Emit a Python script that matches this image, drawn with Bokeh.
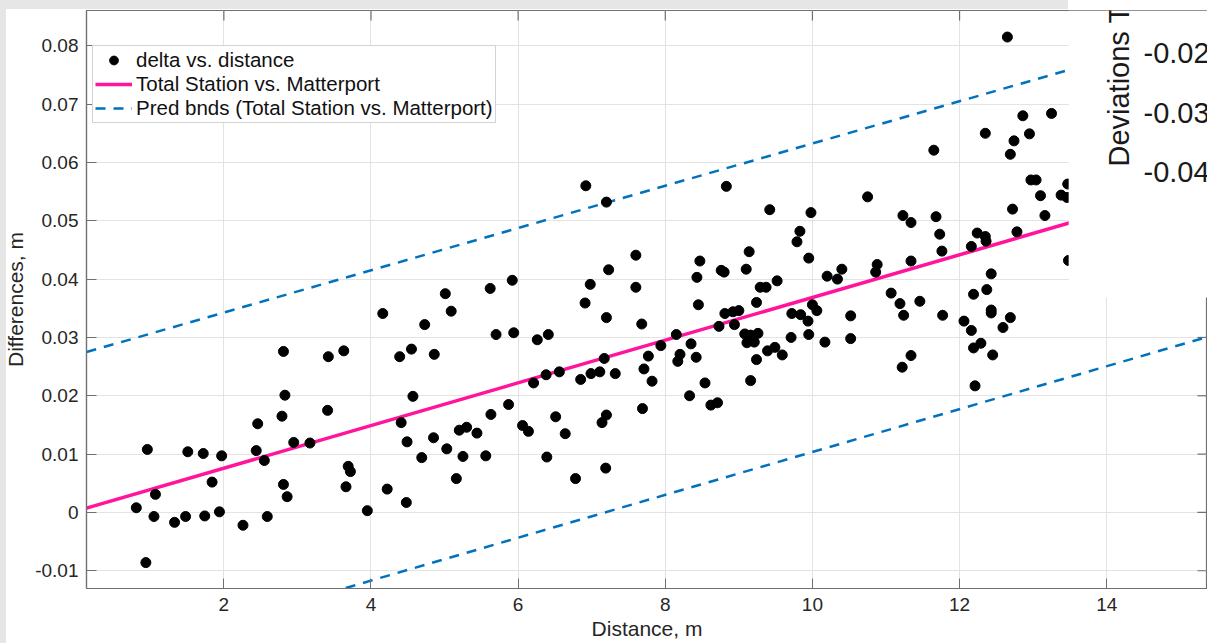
from bokeh.plotting import figure
from bokeh.models import (Range1d, Legend, LegendItem, BoxAnnotation,
                          Label, FixedTicker, NumeralTickFormatter)
from bokeh.embed import file_html
from bokeh.resources import INLINE

# ---------------- data ----------------
distance = [
    0.81, 0.94, 0.96, 1.05, 1.07, 1.33, 1.48, 1.51, 1.72, 1.74, 1.84, 1.94, 1.97,
    2.26, 2.44, 2.46, 2.55, 2.59, 2.79, 2.81, 2.81, 2.83, 2.86, 2.95, 3.17, 3.41,
    3.42, 3.63, 3.66, 3.69, 3.72, 3.95, 4.16, 4.22, 4.39, 4.41, 4.48, 4.49, 4.55,
    4.57, 4.69, 4.73, 4.85, 4.86, 5.01, 5.03, 5.09, 5.16, 5.20, 5.25, 5.30, 5.44,
    5.56, 5.62, 5.63, 5.70, 5.87, 5.92, 5.94, 6.06, 6.14, 6.21, 6.26, 6.38, 6.39,
    6.41, 6.51, 6.56, 6.64, 6.78, 6.85, 6.91, 6.92, 6.98, 6.99, 7.11, 7.14, 7.17,
    7.19, 7.20, 7.20, 7.20, 7.23, 7.32, 7.60, 7.60, 7.68, 7.69, 7.71, 7.77, 7.82,
    7.94, 8.15, 8.17, 8.20, 8.33, 8.35, 8.42, 8.43, 8.45, 8.47, 8.54, 8.62, 8.71,
    8.73, 8.76, 8.80, 8.81, 8.83, 8.92, 8.94, 9.00, 9.08, 9.10, 9.11, 9.14, 9.16,
    9.16, 9.21, 9.24, 9.24, 9.26, 9.29, 9.37, 9.39, 9.42, 9.49, 9.52, 9.59, 9.71,
    9.72, 9.79, 9.83, 9.84, 9.94, 9.95, 9.95, 9.98, 10.00, 10.06, 10.17, 10.20,
    10.34, 10.40, 10.52, 10.52, 10.75, 10.86, 10.88, 11.07, 11.19, 11.22, 11.23,
    11.24, 11.34, 11.34, 11.34, 11.46, 11.65, 11.68, 11.73, 11.76, 11.77, 12.06,
    12.16, 12.16, 12.19, 12.19, 12.21, 12.24, 12.29, 12.35, 12.35, 12.36, 12.37,
    12.43, 12.43, 12.43, 12.45, 12.59, 12.65, 12.69, 12.69, 12.72, 12.74, 12.78,
    12.86, 12.95, 12.97, 13.04, 13.10, 13.16, 13.25, 13.38, 13.46, 13.47, 13.48,
]
delta = [
    0.0008, -0.0086, 0.0108, -0.0007, 0.0031, -0.0017, -0.0007, 0.0104, 0.0101,
    -0.0006, 0.0052, 0.0001, 0.0097, -0.0022, 0.0106, 0.0152, 0.0089, -0.0007,
    0.0165, 0.0276, 0.0048, 0.0201, 0.0027, 0.0120, 0.0119, 0.0175, 0.0267,
    0.0277, 0.0044, 0.0079, 0.0070, 0.0003, 0.0341, 0.0040, 0.0267, 0.0154,
    0.0017, 0.0121, 0.0280, 0.0199, 0.0094, 0.0322, 0.0128, 0.0271, 0.0375,
    0.0109, 0.0345, 0.0058, 0.0141, 0.0096, 0.0146, 0.0136, 0.0097, 0.0384,
    0.0168, 0.0305, 0.0185, 0.0398, 0.0308, 0.0149, 0.0139, 0.0222, 0.0296,
    0.0236, 0.0095, 0.0305, 0.0164, 0.0241, 0.0135, 0.0058, 0.0228, 0.0359,
    0.0560, 0.0391, 0.0238, 0.0241, 0.0154, 0.0264, 0.0076, 0.0167, 0.0334,
    0.0532, 0.0416, 0.0238, 0.0441, 0.0386, 0.0323, 0.0178, 0.0246, 0.0268,
    0.0225, 0.0286, 0.0305, 0.0259, 0.0271, 0.0200, 0.0289, 0.0266, 0.0403,
    0.0356, 0.0431, 0.0222, 0.0184, 0.0188, 0.0319, 0.0415, 0.0412, 0.0341,
    0.0559, 0.0344, 0.0322, 0.0346, 0.0306, 0.0417, 0.0291, 0.0447, 0.0304,
    0.0226, 0.0292, 0.0360, 0.0262, 0.0307, 0.0386, 0.0386, 0.0277, 0.0519,
    0.0283, 0.0397, 0.0270, 0.0300, 0.0341, 0.0464, 0.0482, 0.0339, 0.0328,
    0.0436, 0.0305, 0.0514, 0.0356, 0.0346, 0.0292, 0.0405, 0.0400, 0.0417,
    0.0337, 0.0298, 0.0541, 0.0412, 0.0425, 0.0376, 0.0358, 0.0249, 0.0509,
    0.0338, 0.0497, 0.0431, 0.0269, 0.0362, 0.0621, 0.0507, 0.0477, 0.0448,
    0.0338, 0.0328, 0.0312, 0.0456, 0.0282, 0.0374, 0.0217, 0.0479, 0.0290,
    0.0473, 0.0650, 0.0465, 0.0382, 0.0409, 0.0347, 0.0342, 0.0270, 0.0317,
    0.0815, 0.0614, 0.0334, 0.0520, 0.0637, 0.0481, 0.0680, 0.0649, 0.0570,
    0.0570, 0.0543, 0.0509, 0.0684, 0.0544, 0.0540, 0.0563, 0.0432,
]

# fitted line and prediction bounds (values read at the axis limits)
line_x = [0.133, 15.37]
fit_y = [0.00075, 0.0565]
upper_y = [0.0275, 0.0827]
lower_y = [-0.0259, 0.0301]

x_ticks = [2, 4, 6, 8, 10, 12, 14]
y_ticks = [-0.01, 0.0, 0.01, 0.02, 0.03, 0.04, 0.05, 0.06, 0.07, 0.08]

series_labels = ["delta vs. distance", "Total Station vs. Matterport",
                 "Pred bnds (Total Station vs. Matterport)"]
x_title = "Distance, m"
y_title = "Differences, m"

# text of the second window that overlaps the top-right corner
overlay_title = "Deviations TC"
overlay_ticks = ["-0.02", "-0.03", "-0.04"]

# ---------------- styling ----------------
FONT = "Liberation Sans"
TXT = "#262626"
AX = "#707070"
GRID = "#e3e3e3"
GRAY = "#e6e6e6"
PINK = "#ff149b"
BLUE = "#0072bd"

W, H = 1207, 643
BL, BR, BT, BB = 86, 0, 10, 55
X0, X1 = 0.133, 15.37
Y0, Y1 = -0.01304, 0.08605
TICK = 10  # inward tick length, px

p = figure(width=W, height=H,
           x_range=Range1d(X0, X1), y_range=Range1d(Y0, Y1),
           output_backend="svg", toolbar_location=None,
           min_border_left=BL, min_border_right=BR, min_border_top=BT,
           min_border_bottom=BB,
           background_fill_color="white", border_fill_color=None,
           outline_line_color=AX, outline_line_width=1.2)
p.margin = 0
# window frame: thin gray strips at the left and top (top strip stops where
# the second window overlaps)
p.styles = {
    "background": ("linear-gradient(to right, %s 6px, rgba(255,255,255,0) 6px), "
                   "linear-gradient(to bottom, %s 9px, #ffffff 9px) 0 0 / 1068px 100%% no-repeat, "
                   "#ffffff") % (GRAY, GRAY)
}

xt = FixedTicker(ticks=x_ticks)
yt = FixedTicker(ticks=y_ticks)

for ax in [p.xaxis[0], p.yaxis[0]]:
    ax.major_tick_in = TICK
    ax.major_tick_out = 0
    ax.minor_tick_line_color = None
    ax.axis_line_color = AX
    ax.axis_line_width = 1.2
    ax.major_tick_line_color = AX
    ax.major_label_text_font = FONT
    ax.major_label_text_font_size = "19px"
    ax.major_label_text_color = TXT
    ax.axis_label_text_font = FONT
    ax.axis_label_text_font_size = "21px"
    ax.axis_label_text_font_style = "normal"
    ax.axis_label_text_color = TXT

p.xaxis[0].ticker = xt
p.yaxis[0].ticker = yt
p.yaxis[0].formatter = NumeralTickFormatter(format="0.[00]")
p.xaxis[0].axis_label = x_title
p.yaxis[0].axis_label = y_title
p.xaxis[0].major_label_standoff = 9
p.xaxis[0].axis_label_standoff = 3
p.yaxis[0].major_label_standoff = 8
p.yaxis[0].axis_label_standoff = 5

p.xgrid.ticker = xt
p.ygrid.ticker = yt
p.xgrid.grid_line_color = GRID
p.ygrid.grid_line_color = GRID

# inward ticks on the top and right sides of the box (same ticks as the axes)
dy_tick = TICK * (Y1 - Y0) / (H - BT - BB)
dx_tick = TICK * (X1 - X0) / (W - BL - BR)
p.segment(x0=x_ticks, y0=[Y1] * len(x_ticks), x1=x_ticks,
          y1=[Y1 - dy_tick] * len(x_ticks), line_color=AX, line_width=1.2)
p.segment(x0=[X1] * len(y_ticks), y0=y_ticks, x1=[X1 - dx_tick] * len(y_ticks),
          y1=y_ticks, line_color=AX, line_width=1.2)

# ---------------- glyphs ----------------
up = p.line(line_x, upper_y, line_color=BLUE, line_width=2.5, line_dash="10 8")
lo = p.line(line_x, lower_y, line_color=BLUE, line_width=2.5, line_dash="10 8")
fit = p.line(line_x, fit_y, line_color=PINK, line_width=3.5)
sc = p.scatter(distance, delta, marker="circle", size=10,
               fill_color="black", line_color="black")

legend = Legend(items=[LegendItem(label=series_labels[0], renderers=[sc]),
                       LegendItem(label=series_labels[1], renderers=[fit]),
                       LegendItem(label=series_labels[2], renderers=[up])],
                location=(6, 465), orientation="vertical",
                label_text_font=FONT, label_text_font_size="20.5px",
                label_text_color="#111111",
                glyph_width=37, glyph_height=22, label_height=22,
                label_standoff=4, spacing=-1, padding=2, margin=0,
                border_line_color="#a8a8a8", border_line_width=1,
                background_fill_color="white", background_fill_alpha=1.0)
p.add_layout(legend)

# ---------------- overlapping window in the top-right corner ----------------
cover = BoxAnnotation(left=13.483, bottom=0.03683, fill_color="white", fill_alpha=1.0,
                      line_alpha=0)
p.add_layout(cover)
p.add_layout(Label(x=14.17, y=0.0593, text=overlay_title, angle=90, angle_units="deg",
                   text_font=FONT, text_font_size="29px", text_color="#1a1a1a",
                   text_align="left", text_baseline="middle"))
for txt, yy in zip(overlay_ticks, [0.07876, 0.06847, 0.05843]):
    p.add_layout(Label(x=14.50, y=yy, text=txt, text_font=FONT, text_font_size="29px",
                       text_color="#1a1a1a", text_align="left",
                       text_baseline="middle"))

open("out.html", "w").write(file_html(p, INLINE))
